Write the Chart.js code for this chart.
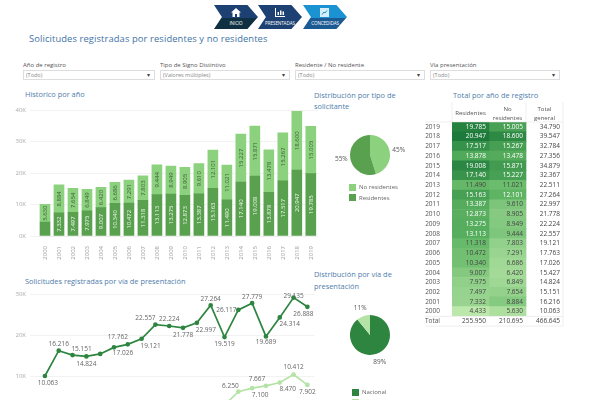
<!DOCTYPE html>
<html>
<head>
<meta charset="utf-8">
<script src="https://cdn.jsdelivr.net/npm/chart.js@4"></script>
<style>
html, body { margin: 0; width: 600px; height: 400px; overflow: hidden; background: #fff; font-family: "Open Sans", sans-serif; }
.box { position: absolute; }
.title { position: absolute; color: #4f7cac; font-size: 7.4px; line-height: 11px; }
.main { left: 29px; top: 32px; font-size: 9.4px; line-height: 14px; color: #3f74a6; letter-spacing: .1px; }
.lbl { position: absolute; top: 61px; font-size: 6px; line-height: 9px; color: #555; }
.sel { position: absolute; top: 70px; height: 8px; border: 1px solid #ddd; font-size: 5.5px; line-height: 8px; color: #888; padding-left: 2px; }
.sel:after { content: "\25BE"; position: absolute; right: 4px; top: 0; color: #444; }
.nav { position: absolute; top: 5px; height: 24px; width: 44px; clip-path: polygon(0 0, 76% 0, 100% 50%, 76% 100%, 0 100%, 18% 50%); color: #fff; font-size: 4.6px; letter-spacing: -.1px; text-align: center; }
.nav .top { height: 13px; position: relative; }
.nav .bot { height: 11px; line-height: 10px; }
.nav svg { position: absolute; left: 17px; top: 3px; }
.leg { position: absolute; font-size: 6px; line-height: 8px; color: #666; }
</style>
</head>
<body>
<div class="nav" style="left:214px"><div class="top" style="background:#1c4172"><svg width="10" height="9" viewBox="0 0 10 9"><path d="M5 0 L10 4.5 H8.5 V9 H6 V6 H4 V9 H1.5 V4.5 H0 Z" fill="#fff"/></svg></div><div class="bot" style="background:#0e3040">INICIO</div></div>
<div class="nav" style="left:258px"><div class="top" style="background:#1c4172"><svg width="10" height="9" viewBox="0 0 10 9"><path d="M0 0 V9 H10 V8 H1 V0 Z M2.5 4 H4 V7 H2.5 Z M5 2.5 H6.5 V7 H5 Z M7.5 3.5 H9 V7 H7.5 Z" fill="#fff"/></svg></div><div class="bot" style="background:#1c4172">PRESENTADAS</div></div>
<div class="nav" style="left:303px"><div class="top" style="background:#1b92d2"><svg width="9" height="9" viewBox="0 0 9 9"><rect width="9" height="9" fill="#d6eefa"/><path d="M2 6.5 L4 4 L5 5 L7 2.5" stroke="#1b92d2" fill="none"/></svg></div><div class="bot" style="background:#1c5a94">CONCEDIDAS</div></div>

<div class="title main">Solicitudes registradas por residentes y no residentes</div>

<div class="lbl" style="left:23px">Año de registro</div>
<div class="sel" style="left:23px;width:128px">(Todo)</div>
<div class="lbl" style="left:160px">Tipo de Signo Distintivo</div>
<div class="sel" style="left:160px;width:126px">(Valores múltiples)</div>
<div class="lbl" style="left:295px">Residente / No residente</div>
<div class="sel" style="left:295px;width:126px">(Todo)</div>
<div class="lbl" style="left:430px">Vía presentación</div>
<div class="sel" style="left:430px;width:126px">(Todo)</div>

<div class="title" style="left:25px;top:89px">Historico por año</div>
<div class="title" style="left:25px;top:276px">Solicitudes registradas por vía de presentación</div>
<div class="title" style="left:314px;top:90px;width:100px">Distribución por tipo de solicitante</div>
<div class="title" style="left:314px;top:268px;width:100px;line-height:12px">Distribución por vía de presentación</div>
<div class="title" style="left:453px;top:90px">Total por año de registro</div>

<div class="box" style="left:0;top:100px;width:320px;height:170px"><canvas id="bars"></canvas></div>
<div class="box" style="left:0;top:285px;width:320px;height:140px"><canvas id="lines"></canvas></div>
<div class="box" style="left:330px;top:125px;width:80px;height:60px"><canvas id="pieTipo"></canvas></div>
<div class="box" style="left:330px;top:305px;width:80px;height:60px"><canvas id="pieVia"></canvas></div>
<div class="box" style="left:425px;top:102px;width:175px;height:232px"><canvas id="table"></canvas></div>

<div class="box" style="left:349px;top:184px;width:7px;height:7px;background:#8cd17d"></div>
<div class="leg" style="left:359px;top:183px">No residentes</div>
<div class="box" style="left:349px;top:194px;width:7px;height:7px;background:#59a14f"></div>
<div class="leg" style="left:359px;top:194px">Residentes</div>
<div class="box" style="left:352px;top:389px;width:7px;height:7px;background:#2e8540"></div>
<div class="leg" style="left:362px;top:388px">Nacional</div>
<div class="box" style="left:352px;top:399px;width:7px;height:7px;background:#b5e3a6"></div>

<script>
const years = ['2000','2001','2002','2003','2004','2005','2006','2007','2008','2009','2010','2011','2012','2013','2014','2015','2016','2017','2018','2019'];
const residentes = [4433,7332,7497,7975,9007,10340,10472,11318,13113,13275,12873,13387,15163,11490,17140,19008,13878,17517,20947,19785];
const noResidentes = [5630,8884,7654,6849,6420,6686,7291,7803,9444,8949,8905,9610,12101,11021,15227,15871,13478,15267,18600,15005];
const totalGeneral = [10063,16216,15151,14824,15427,17026,17763,19121,22557,22224,21778,22997,27264,22511,32367,34879,27356,32784,39547,34790];
const nacional = [10063,16216,15151,14824,15427,17026,17762,19121,22557,22224,21778,22997,27264,19519,26117,27779,19689,24314,29135,26888];
const virtual = [null,null,null,null,null,null,null,null,null,null,null,null,null,2992,6250,7100,7667,8470,10412,7902];
const barTicks = [0,10000,20000,30000,40000];
const lineTicks = [10000,20000,30000];
const tipoLabels = ['No residentes','Residentes'];
const tipoValues = [210695,255950];
const viaLabels = ['Nacional','Virtual'];
const viaValues = [415852,50793];
const totalsRow = ['255.950','210.695','466.645'];

const DARK = '#59a14f', LIGHT = '#8cd17d', NAC = '#2e8540', VIR = '#b5e3a6';
const FONT = '"Open Sans", sans-serif';

function fmt(v) {
    return String(v).replace(/\B(?=(\d{3})+$)/g, '.');
}

// text inside the stacked bars, rotated like the original
const barLabels = {
    id: 'barLabels',
    afterDatasetsDraw(chart) {
        const c = chart.ctx;
        chart.data.datasets.forEach((ds, i) => {
            chart.getDatasetMeta(i).data.forEach((bar, j) => {
                if (Math.abs(bar.base - bar.y) < 16) return; // no room, the original drops it too
                c.save();
                c.translate(bar.x, (bar.y + bar.base) / 2);
                c.rotate(-Math.PI / 2);
                c.font = '6px ' + FONT;
                c.fillStyle = i === 0 ? '#f2f7f0' : '#3c5a38';
                c.textAlign = 'center';
                c.textBaseline = 'middle';
                c.fillText(fmt(ds.data[j]), 0, 0);
                c.restore();
            });
        });
    }
};

new Chart(document.getElementById('bars'), {
    type: 'bar',
    data: {
        labels: years,
        datasets: [
            { data: residentes, backgroundColor: DARK, barThickness: 10, stack: 's' },
            { data: noResidentes, backgroundColor: LIGHT, barThickness: 10, stack: 's' }
        ]
    },
    options: {
        responsive: true,
        maintainAspectRatio: false,
        animation: false,
        layout: { padding: { top: 10 } },
        plugins: { legend: { display: false }, tooltip: { enabled: false } },
        scales: {
            x: {
                stacked: true,
                grid: { display: false },
                border: { color: '#eee' },
                afterFit(s) { s.height = 34; },
                ticks: { color: '#999', font: { size: 6, family: FONT }, maxRotation: 90, minRotation: 90, autoSkip: false, padding: 2 }
            },
            y: {
                stacked: true,
                min: 0,
                max: 40000,
                afterFit(s) { s.width = 38; },
                afterBuildTicks(s) { s.ticks = barTicks.map(v => ({ value: v })); },
                grid: { color: '#f2f2f2' },
                border: { display: false },
                ticks: { color: '#aaa', font: { size: 6, family: FONT }, padding: 4, callback: v => (v / 1000) + 'K' }
            }
        }
    },
    plugins: [barLabels]
});

// per-point label placement [dx, dy] from the point, the original places them by hand
const nacionalOffsets = [[3,7],[0,-7],[9,-6],[0,8],null,[9,6],[-10,-7],[9,7],[-10,-6],[0,-7],[0,7],[9,7],[0,-6],[0,7],[-12,0],[0,-6],[0,6],[10,7],[0,-1],[-4,7]];
const virtualOffsets = [null,null,null,null,null,null,null,null,null,null,null,null,null,null,[-8,-6],[8,7],[-9,-7],[8,7],[0,-7],[0,7]];

const pointLabels = {
    id: 'pointLabels',
    afterDatasetsDraw(chart) {
        const c = chart.ctx;
        c.save();
        c.font = '6.5px ' + FONT;
        c.fillStyle = '#666';
        c.textAlign = 'center';
        c.textBaseline = 'middle';
        [nacionalOffsets, virtualOffsets].forEach((offsets, i) => {
            chart.getDatasetMeta(i).data.forEach((pt, j) => {
                if (offsets[j]) c.fillText(fmt(chart.data.datasets[i].data[j]), pt.x + offsets[j][0], pt.y + offsets[j][1]);
            });
        });
        c.restore();
    }
};

new Chart(document.getElementById('lines'), {
    type: 'line',
    data: {
        labels: years,
        datasets: [
            { data: nacional, borderColor: NAC, backgroundColor: NAC, borderWidth: 1.7, pointRadius: 1.5, tension: 0 },
            { data: virtual, borderColor: VIR, backgroundColor: VIR, borderWidth: 1.7, pointRadius: 1.5, tension: 0 }
        ]
    },
    options: {
        responsive: true,
        maintainAspectRatio: false,
        animation: false,
        layout: { padding: { top: 9 } },
        plugins: { legend: { display: false }, tooltip: { enabled: false } },
        scales: {
            x: {
                offset: true,
                afterFit(s) { s.height = 0; },
                grid: { display: false },
                border: { display: false },
                ticks: { display: false }
            },
            y: {
                min: 0,
                max: 30000,
                afterFit(s) { s.width = 38; },
                afterBuildTicks(s) { s.ticks = lineTicks.map(v => ({ value: v })); },
                grid: { color: '#f2f2f2' },
                border: { display: false },
                ticks: { color: '#aaa', font: { size: 6, family: FONT }, padding: 4, callback: v => (v / 1000) + 'K' }
            }
        }
    },
    plugins: [pointLabels]
});

// percentage next to each slice
const pieLabels = {
    id: 'pieLabels',
    afterDatasetsDraw(chart) {
        const c = chart.ctx;
        const ds = chart.data.datasets[0];
        const total = ds.data.reduce((a, b) => a + b, 0);
        c.save();
        c.font = '6.5px ' + FONT;
        c.fillStyle = '#555';
        c.textAlign = 'center';
        c.textBaseline = 'middle';
        chart.getDatasetMeta(0).data.forEach((arc, i) => {
            const mid = (arc.startAngle + arc.endAngle) / 2;
            const r = arc.outerRadius + 9;
            c.fillText(Math.round(ds.data[i] / total * 100) + '%', arc.x + Math.cos(mid) * r, arc.y + Math.sin(mid) * r);
        });
        c.restore();
    }
};

function pie(id, labels, values, colors) {
    new Chart(document.getElementById(id), {
        type: 'pie',
        data: { labels: labels, datasets: [{ data: values, backgroundColor: colors, borderWidth: 0 }] },
        options: {
            responsive: true,
            maintainAspectRatio: false,
            animation: false,
            radius: 20,
            plugins: { legend: { display: false }, tooltip: { enabled: false } }
        },
        plugins: [pieLabels]
    });
}
pie('pieTipo', tipoLabels, tipoValues, [LIGHT, DARK]);
pie('pieVia', viaLabels, viaValues, [NAC, VIR]);

// heat table: one unit wide stacked bars per column, newest year on top
const rows = years.slice().reverse().concat(['Total']);
const resRows = residentes.slice().reverse();
const noRows = noResidentes.slice().reverse();
const totRows = totalGeneral.slice().reverse();

function mix(a, b, t) {
    return 'rgb(' + a.map((x, i) => Math.round(x + (b[i] - x) * t)).join(',') + ')';
}

function heat(v) {
    if (v < 12000) return mix([188, 232, 171], [95, 181, 99], Math.max(0, (v - 4400) / 7600));
    return mix([95, 181, 99], [29, 122, 58], Math.min(1, (v - 12000) / 8947));
}

const cellText = {
    id: 'cellText',
    afterDatasetsDraw(chart) {
        const c = chart.ctx;
        const cols = [resRows, noRows, totRows];
        c.save();
        c.font = '6.5px ' + FONT;
        c.textAlign = 'right';
        c.textBaseline = 'middle';
        cols.forEach((col, i) => {
            chart.getDatasetMeta(i).data.forEach((bar, j) => {
                const last = j === rows.length - 1;
                const v = last ? null : col[j];
                c.fillStyle = (!last && i < 2 && v > 12000) ? '#fff' : '#444';
                c.fillText(last ? totalsRow[i] : fmt(v), Math.max(bar.x, bar.base) - 3, bar.y);
            });
        });
        // column headers
        const heads = [['Residentes'], ['No', 'residentes'], ['Total', 'general']];
        c.textAlign = 'center';
        c.fillStyle = '#555';
        c.font = '6px ' + FONT;
        const a = chart.chartArea;
        heads.forEach((lines, i) => {
            const bar = chart.getDatasetMeta(i).data[0];
            const x = (bar.x + bar.base) / 2;
            lines.forEach((t, k) => c.fillText(t, x, a.top - 8.5 - (lines.length - 1) * 4.5 + k * 9));
        });
        // rules
        const rowH = a.height / rows.length;
        c.strokeStyle = '#ddd';
        c.lineWidth = 0.5;
        c.beginPath();
        c.moveTo(a.left - 27, a.top); c.lineTo(a.right, a.top);
        c.moveTo(a.left, a.top - 20); c.lineTo(a.left, a.top);
        c.moveTo(a.right - a.width / 3, a.top - 20); c.lineTo(a.right - a.width / 3, a.top);
        c.moveTo(a.right, a.top - 20); c.lineTo(a.right, a.bottom);
        c.moveTo(a.left - 27, a.bottom - rowH); c.lineTo(a.right, a.bottom - rowH);
        c.moveTo(a.left - 27, a.bottom); c.lineTo(a.right, a.bottom);
        c.stroke();
        c.restore();
    }
};

const unit = rows.map(() => 1);

new Chart(document.getElementById('table'), {
    type: 'bar',
    data: {
        labels: rows,
        datasets: [
            { data: unit, barPercentage: 1, categoryPercentage: 1, backgroundColor: ctx => ctx.dataIndex < resRows.length ? heat(resRows[ctx.dataIndex]) : '#fff' },
            { data: unit, barPercentage: 1, categoryPercentage: 1, backgroundColor: ctx => ctx.dataIndex < noRows.length ? heat(noRows[ctx.dataIndex]) : '#fff' },
            { data: unit, barPercentage: 1, categoryPercentage: 1, backgroundColor: '#fff' }
        ]
    },
    options: {
        indexAxis: 'y',
        responsive: true,
        maintainAspectRatio: false,
        animation: false,
        layout: { padding: { top: 20, right: 37, bottom: 2 } },
        plugins: { legend: { display: false }, tooltip: { enabled: false } },
        scales: {
            x: { stacked: true, min: 0, max: 3, display: false },
            y: {
                stacked: true,
                afterFit(s) { s.width = 27; },
                grid: { display: false },
                border: { display: false },
                ticks: { color: '#555', font: { size: 6.5, family: FONT }, padding: 4, autoSkip: false }
            }
        }
    },
    plugins: [cellText]
});
</script>
</body>
</html>
